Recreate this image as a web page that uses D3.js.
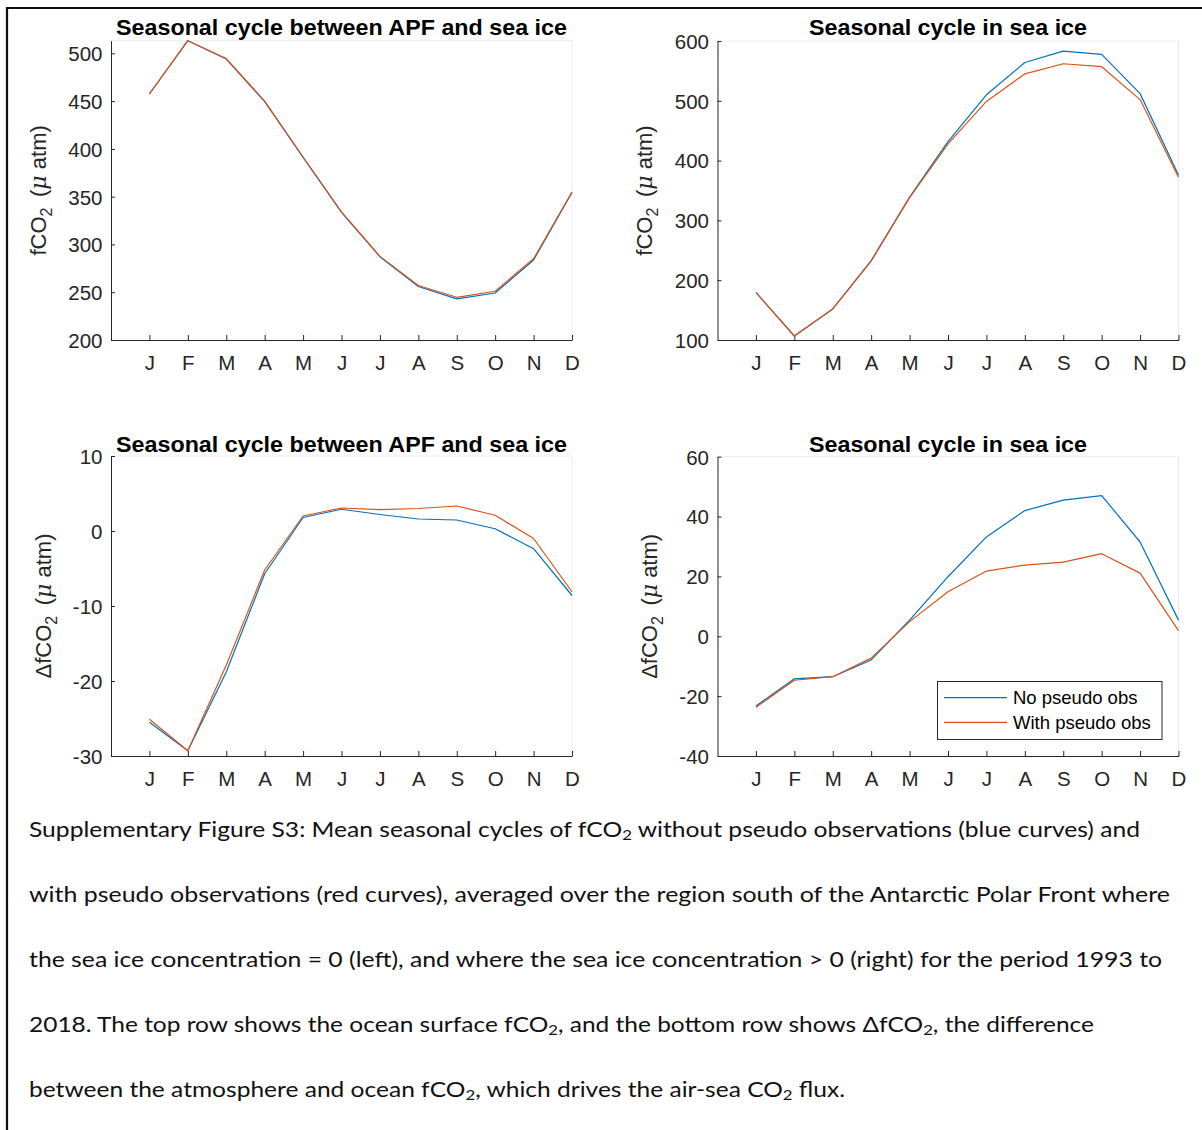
<!DOCTYPE html>
<html>
<head>
<meta charset="utf-8">
<script src="https://cdn.jsdelivr.net/npm/d3@7"></script>
<style>
  html, body { margin: 0; padding: 0; background: #fff; }
  svg { display: block; }
</style>
</head>
<body>
<script>
// ---------------- DATA ----------------
const months = ["J","F","M","A","M","J","J","A","S","O","N","D"];
const monthIndex = [1,2,3,4,5,6,7,8,9,10,11,12];

const titleApf = "Seasonal cycle between APF and sea ice";
const titleIce = "Seasonal cycle in sea ice";

// fCO2 (top row)
const fco2ApfNoPseudo   = [457.4, 513.2, 494.0, 449.4, 391.0, 333.6, 287.2, 256.0, 243.0, 249.2, 283.7, 354.5];
const fco2ApfWithPseudo = [457.6, 513.2, 494.5, 450.0, 391.5, 334.0, 287.5, 257.0, 244.7, 251.0, 285.0, 354.8];
const fco2IceNoPseudo   = [179.5, 106.7, 152.0, 232.8, 339.0, 431.8, 510.0, 564.0, 583.0, 577.6, 512.0, 375.8];
const fco2IceWithPseudo = [179.5, 106.7, 152.0, 232.0, 338.0, 427.9, 499.0, 545.0, 562.0, 557.0, 502.0, 372.0];

// delta fCO2 (bottom row)
const dfco2ApfNoPseudo   = [-25.5, -29.3, -18.8, -5.7, 1.8, 2.9, 2.2, 1.6, 1.47, 0.3, -2.36, -8.6];
const dfco2ApfWithPseudo = [-25.1, -29.3, -17.9, -5.2, 2.0, 3.07, 2.85, 3.0, 3.33, 2.1, -1.0, -8.1];
const dfco2IceNoPseudo   = [-23.3, -14.2, -13.5, -7.9, 5.4, 19.9, 33.2, 42.0, 45.5, 47.0, 31.5, 5.4];
const dfco2IceWithPseudo = [-23.7, -14.7, -13.5, -7.3, 4.9, 14.9, 21.8, 23.8, 24.8, 27.6, 21.1, 1.9];

// axis ticks & limits
const yTicksFco2Apf  = [200, 250, 300, 350, 400, 450, 500];
const yLimFco2Apf    = [200, 513.2];
const yTicksFco2Ice  = [100, 200, 300, 400, 500, 600];
const yLimFco2Ice    = [100, 600];
const yTicksDfco2Apf = [-30, -20, -10, 0, 10];
const yLimDfco2Apf   = [-30, 10];
const yTicksDfco2Ice = [-40, -20, 0, 20, 40, 60];
const yLimDfco2Ice   = [-40, 60];

const legendLabels = ["No pseudo obs", "With pseudo obs"];

const captionLines = [
  ["Supplementary Figure S3: Mean seasonal cycles of fCO", "2", " without pseudo observations (blue curves) and"],
  ["with pseudo observations (red curves), averaged over the region south of the Antarctic Polar Front where"],
  ["the sea ice concentration = 0 (left), and where the sea ice concentration > 0 (right) for the period 1993 to"],
  ["2018. The top row shows the ocean surface fCO", "2", ", and the bottom row shows \u0394fCO", "2", ", the difference"],
  ["between the atmosphere and ocean fCO", "2", ", which drives the air-sea CO", "2", " flux."]
];

// ---------------- STYLE / LAYOUT ----------------
const BLUE = "#0072BD", RED = "#D95319", AX = "#262626";
const FONT = "'Liberation Sans', Arial, sans-serif";

const svg = d3.select("body").append("svg")
  .attr("width", 1202).attr("height", 1130);
svg.append("rect").attr("width", 1202).attr("height", 1130).attr("fill", "#fff");

// outer frame
svg.append("path").attr("d", "M7,1130V8H1202")
  .attr("fill", "none").attr("stroke", "#111").attr("stroke-width", 2.2);

const panels = [
  { left: 111, right: 572, top: 40.7, bottom: 340, lim: yLimFco2Apf, ticks: yTicksFco2Apf,
    no: fco2ApfNoPseudo, withp: fco2ApfWithPseudo, title: titleApf, titleW: 451, titleY: 35, delta: false, labelX: 46, monthY: 370 },
  { left: 717.5, right: 1178.5, top: 41, bottom: 340, lim: yLimFco2Ice, ticks: yTicksFco2Ice,
    no: fco2IceNoPseudo, withp: fco2IceWithPseudo, title: titleIce, titleW: 278, titleY: 35, delta: false, labelX: 652, monthY: 370 },
  { left: 111, right: 572, top: 456, bottom: 756, lim: yLimDfco2Apf, ticks: yTicksDfco2Apf,
    no: dfco2ApfNoPseudo, withp: dfco2ApfWithPseudo, title: titleApf, titleW: 451, titleY: 451.5, delta: true, labelX: 51, monthY: 786 },
  { left: 717.5, right: 1178.5, top: 456.7, bottom: 756, lim: yLimDfco2Ice, ticks: yTicksDfco2Ice,
    no: dfco2IceNoPseudo, withp: dfco2IceWithPseudo, title: titleIce, titleW: 278, titleY: 451.5, delta: true, labelX: 657, monthY: 786, legend: true }
];

panels.forEach(p => {
  const x = d3.scaleLinear().domain([0, 12]).range([p.left, p.right]);
  const y = d3.scaleLinear().domain(p.lim).range([p.bottom, p.top]);
  const g = svg.append("g");

  // faint box edges (top, right)
  g.append("path")
    .attr("d", `M${p.left},${p.top}H${p.right}V${p.bottom}`)
    .attr("fill", "none").attr("stroke", "#ececec").attr("stroke-width", 1);

  // x axis
  const xa = g.append("g").attr("transform", `translate(0,${p.bottom})`)
    .call(d3.axisBottom(x).tickValues(monthIndex).tickFormat(i => months[i - 1])
      .tickSizeInner(-5).tickSizeOuter(0).tickPadding(0));
  xa.attr("font-family", FONT).attr("font-size", 20.5);
  xa.select(".domain").attr("stroke", AX);
  xa.selectAll(".tick line").attr("stroke", AX);
  xa.selectAll(".tick text").attr("fill", AX).attr("dy", null).attr("y", p.monthY - p.bottom);

  // y axis
  const ya = g.append("g").attr("transform", `translate(${p.left},0)`)
    .call(d3.axisLeft(y).tickValues(p.ticks).tickFormat(d => String(d))
      .tickSizeInner(-4).tickSizeOuter(0).tickPadding(8.5));
  ya.attr("font-family", FONT).attr("font-size", 20.5);
  ya.select(".domain").attr("stroke", AX);
  ya.selectAll(".tick line").attr("stroke", AX);
  ya.selectAll(".tick text").attr("fill", AX).attr("dy", "0.36em");

  // lines
  const line = d3.line().x((d, i) => x(monthIndex[i])).y(d => y(d));
  g.append("path").datum(p.no).attr("d", line)
    .attr("fill", "none").attr("stroke", BLUE).attr("stroke-width", 1.2).attr("stroke-linejoin", "round");
  g.append("path").datum(p.withp).attr("d", line)
    .attr("fill", "none").attr("stroke", RED).attr("stroke-width", 1.2).attr("stroke-linejoin", "round");

  // title
  g.append("text").attr("x", (p.left + p.right) / 2).attr("y", p.titleY)
    .attr("text-anchor", "middle").attr("font-family", FONT).attr("font-weight", "bold")
    .attr("font-size", 21.5).attr("fill", "#000")
    .attr("textLength", p.titleW).attr("lengthAdjust", "spacingAndGlyphs").text(p.title);

  // y label
  const cy = (p.top + p.bottom) / 2;
  const lab = g.append("text")
    .attr("transform", `translate(${p.labelX},${cy}) rotate(-90)`)
    .attr("text-anchor", "middle").attr("font-family", FONT).attr("font-size", 22).attr("fill", AX);
  lab.append("tspan").text((p.delta ? "\u0394" : "") + "fCO");
  lab.append("tspan").attr("font-size", 16).attr("dy", 6).text("2");
  lab.append("tspan").attr("dy", -6).text("\u2009 (");
  lab.append("tspan").attr("font-family", "'DejaVu Serif', serif").attr("font-style", "italic").text("\u03bc");
  lab.append("tspan").text(" atm)");

  // legend
  if (p.legend) {
    const lg = g.append("g");
    lg.append("rect").attr("x", 937.5).attr("y", 681.5).attr("width", 224.5).attr("height", 58)
      .attr("fill", "#fff").attr("stroke", AX).attr("stroke-width", 1);
    [BLUE, RED].forEach((c, i) => {
      const yy = 697.7 + i * 24.6;
      lg.append("line").attr("x1", 944).attr("x2", 1007).attr("y1", yy).attr("y2", yy)
        .attr("stroke", c).attr("stroke-width", 1.2);
      lg.append("text").attr("x", 1013).attr("y", 704.3 + i * 24.8)
        .attr("font-family", FONT).attr("font-size", 18.5).attr("fill", "#000").text(legendLabels[i]);
    });
  }
});

// caption
const capBase = [837, 902, 967, 1032, 1097];
const capRight = [1140, 1170, 1162, 1094, 845];
captionLines.forEach((parts, li) => {
  const t = svg.append("text").attr("x", 29).attr("y", capBase[li])
    .attr("font-family", "Lato, 'Open Sans', sans-serif").attr("font-size", 20.5).attr("fill", "#111")
    .attr("textLength", capRight[li] - 29).attr("lengthAdjust", "spacingAndGlyphs");
  let prevSub = false;
  parts.forEach(s => {
    if (s === "2") {
      t.append("tspan").attr("font-size", 14).attr("dy", 3).text("2");
      prevSub = true;
    } else {
      const ts = t.append("tspan").text(s);
      if (prevSub) ts.attr("dy", -3);
      prevSub = false;
    }
  });
});
</script>
</body>
</html>
